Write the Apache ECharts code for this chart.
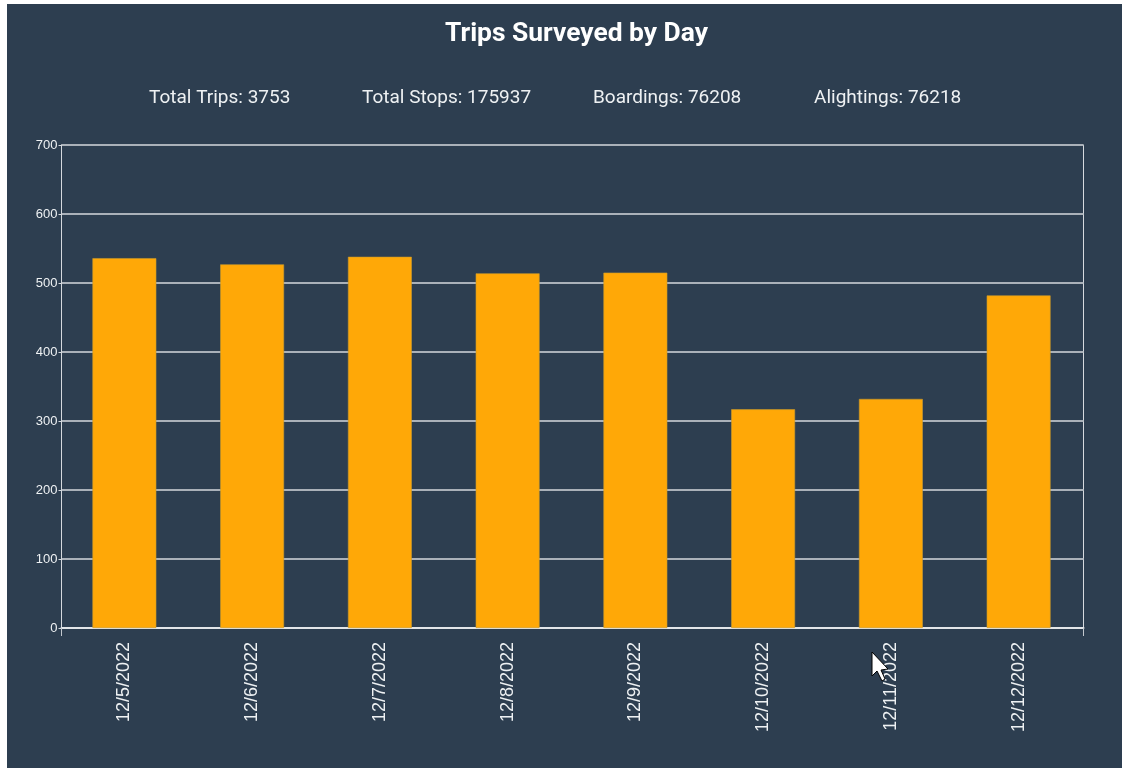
<!DOCTYPE html>
<html><head><meta charset="utf-8">
<style>html,body{margin:0;padding:0;background:#fff;width:1122px;height:768px;overflow:hidden}
#c{position:absolute;left:7px;top:4px;width:1115px;height:764px}</style>
<script src="https://cdn.jsdelivr.net/npm/echarts@6/dist/echarts.min.js"></script>
</head><body><div id="c"></div>
<script>
const chartTitle = 'Trips Surveyed by Day';
const statLabels = ['Total Trips: 3753', 'Total Stops: 175937', 'Boardings: 76208', 'Alightings: 76218'];
const statLeft = [142, 355, 586, 807];
const categories = ['12/5/2022','12/6/2022','12/7/2022','12/8/2022','12/9/2022','12/10/2022','12/11/2022','12/12/2022'];
const trips = [536, 527, 538, 514, 515, 317, 332, 482];
const bg = '#2d3e50', fg = '#eef1f3';
const chart = echarts.init(document.getElementById('c'), null, {renderer:'canvas'});
chart.setOption({
  animation:false,
  backgroundColor:bg,
  title:[
    {text:chartTitle,left:438,top:17,padding:0,textStyle:{color:'#fff',fontFamily:'Roboto',fontSize:26.4,fontWeight:'bold'}},
    ...statLabels.map((t,i)=>({text:t,left:statLeft[i],top:85,padding:0,textStyle:{color:fg,fontFamily:'Roboto',fontSize:19,fontWeight:400}}))
  ],
  grid:[
    {left:54.5,right:38.5,top:141,bottom:140,show:true,borderColor:'#d5d9de',borderWidth:1,backgroundColor:'transparent'},
    {left:53.5,right:39.5,top:141,bottom:140}
  ],
  xAxis:[
    {type:'category',gridIndex:1,data:categories,
     axisLine:{show:false},
     axisTick:{alignWithLabel:true,length:6,lineStyle:{color:'#c3c8ce',width:2}},
     axisLabel:{rotate:90,color:fg,fontFamily:'Liberation Sans',fontSize:18,margin:14,interval:0},
     splitLine:{show:false}},
    {type:'category',gridIndex:0,data:[''],position:'bottom',
     axisLine:{show:true,lineStyle:{color:'#e2e5e8',width:2}},
     axisTick:{show:true,length:8,lineStyle:{color:'#c3c8ce',width:1}},
     axisLabel:{show:false},splitLine:{show:false}}
  ],
  yAxis:[
    {type:'value',gridIndex:0,min:0,max:700,interval:100,
     axisLine:{show:true,lineStyle:{color:'#d5d9de',width:1}},
     axisTick:{show:true,length:3,lineStyle:{color:'#d5d9de'}},
     axisLabel:{color:fg,fontFamily:'Liberation Sans',fontSize:13,margin:4},
     splitLine:{show:true,lineStyle:{color:'#aab1b9',width:2}}},
    {type:'value',gridIndex:1,min:0,max:700,interval:100,show:false,splitLine:{show:false}}
  ],
  series:[{type:'bar',xAxisIndex:0,yAxisIndex:1,data:trips,barWidth:'50%',itemStyle:{color:'#ffa807',borderColor:'#c99a2e',borderWidth:0.6},z:3}],
  graphic:[{type:'polygon',z:100,silent:true,
    shape:{points:[[865,648],[865,672],[870,667],[875,677],[878,675],[874,666],[881,665]]},
    style:{fill:'#fff',stroke:'#000',lineWidth:1}}]
});
</script></body></html>
